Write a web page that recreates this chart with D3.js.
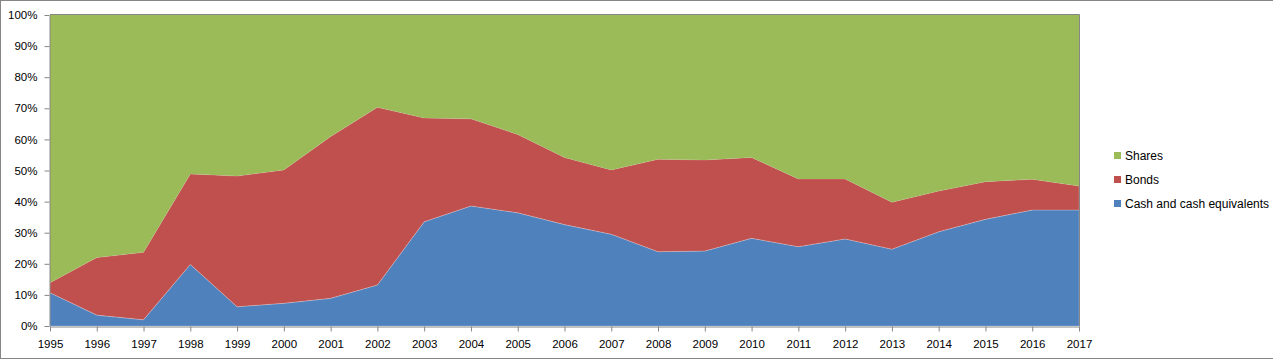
<!DOCTYPE html>
<html><head><meta charset="utf-8">
<script src="https://cdn.jsdelivr.net/npm/d3@7"></script>
<style>html,body{margin:0;padding:0;background:#fff;}svg{display:block;}text{font-family:"Liberation Sans",Arial,sans-serif;font-size:11px;fill:#000;}</style>
</head><body>
<svg id="c" width="1273" height="364"></svg>
<script>
const years = [1995,1996,1997,1998,1999,2000,2001,2002,2003,2004,2005,2006,2007,2008,2009,2010,2011,2012,2013,2014,2015,2016,2017];
const cash   = [10.7,3.5,2.0,19.8,6.2,7.3,8.9,13.2,33.5,38.6,36.4,32.6,29.5,23.9,24.1,28.2,25.5,28.0,24.7,30.3,34.3,37.3,37.3];
const bonds  = [3.2,18.5,21.7,29.1,42.0,42.9,52.0,57.1,33.4,28.0,25.2,21.6,20.7,29.7,29.3,26.0,21.8,19.3,15.1,13.1,12.1,9.9,7.7];
const shares = [86.1,78.0,76.3,51.1,51.8,49.8,39.1,29.7,33.1,33.4,38.4,45.8,49.8,46.4,46.6,45.8,52.7,52.7,60.2,56.6,53.6,52.8,55.0];
const seriesNames = ["Cash and cash equivalents","Bonds","Shares"];
const colors = ["#4F81BD","#C0504D","#9BBB59"];
const yTicks = [0,10,20,30,40,50,60,70,80,90,100];

const svg = d3.select("#c");
svg.append("rect").attr("x",0.5).attr("y",0.5).attr("width",1280).attr("height",358).attr("fill","#fff").attr("stroke","#868686").attr("stroke-width",1);

const L=50,R=1079,T=15,B=326;
const x = d3.scalePoint().domain(years).range([L,R]);
const y = d3.scaleLinear().domain([0,100]).range([B,T]);

const table = years.map((yr,i)=>({year:yr, c:cash[i], b:bonds[i], s:shares[i]}));
const stack = d3.stack().keys(["c","b","s"]).offset(d3.stackOffsetExpand)(table);
const area = d3.area().x(d=>x(d.data.year)).y0(d=>y(d[0]*100)).y1(d=>y(d[1]*100));

svg.append("g").selectAll("path").data(stack).join("path")
  .attr("d",area).attr("fill",(d,i)=>colors[i])
  .attr("stroke",(d,i)=>i<2?"rgba(255,255,255,0.35)":"none").attr("stroke-width",0.6);

// plot border top/right
svg.append("line").attr("x1",L).attr("x2",R+0.5).attr("y1",T-0.5).attr("y2",T-0.5).attr("stroke","#868686");
svg.append("line").attr("x1",R+0.5).attr("x2",R+0.5).attr("y1",T-0.5).attr("y2",B).attr("stroke","#868686");

const ya = svg.append("g").attr("transform",`translate(${L-0.5},0)`)
  .call(d3.axisLeft(y).tickValues(yTicks).tickFormat(d=>d+"%").tickSize(5).tickSizeOuter(0));
ya.select(".domain").attr("stroke","#868686");
ya.selectAll(".tick line").attr("stroke","#868686");
ya.selectAll(".tick text").attr("x",-12).style("font-family","'Liberation Sans',Arial,sans-serif").style("font-size","11.5px").attr("fill","#000");

const xa = svg.append("g").attr("transform",`translate(0,${B+0.5})`)
  .call(d3.axisBottom(x).tickSize(5).tickSizeOuter(0));
xa.select(".domain").attr("stroke","#868686");
xa.selectAll(".tick line").attr("stroke","#868686");
xa.selectAll(".tick text").attr("y",13).style("font-family","'Liberation Sans',Arial,sans-serif").style("font-size","11.5px").attr("fill","#000");

// legend
const leg = svg.append("g");
const legOrder = [2,1,0];
legOrder.forEach((si,k)=>{
  const yy = 156 + k*24;
  leg.append("rect").attr("x",1114).attr("y",yy-4).attr("width",7).attr("height",7).attr("fill",colors[si]);
  leg.append("text").attr("x",1125).attr("y",yy+4).style("font-size","12px").text(seriesNames[si]);
});
</script>
</body></html>
